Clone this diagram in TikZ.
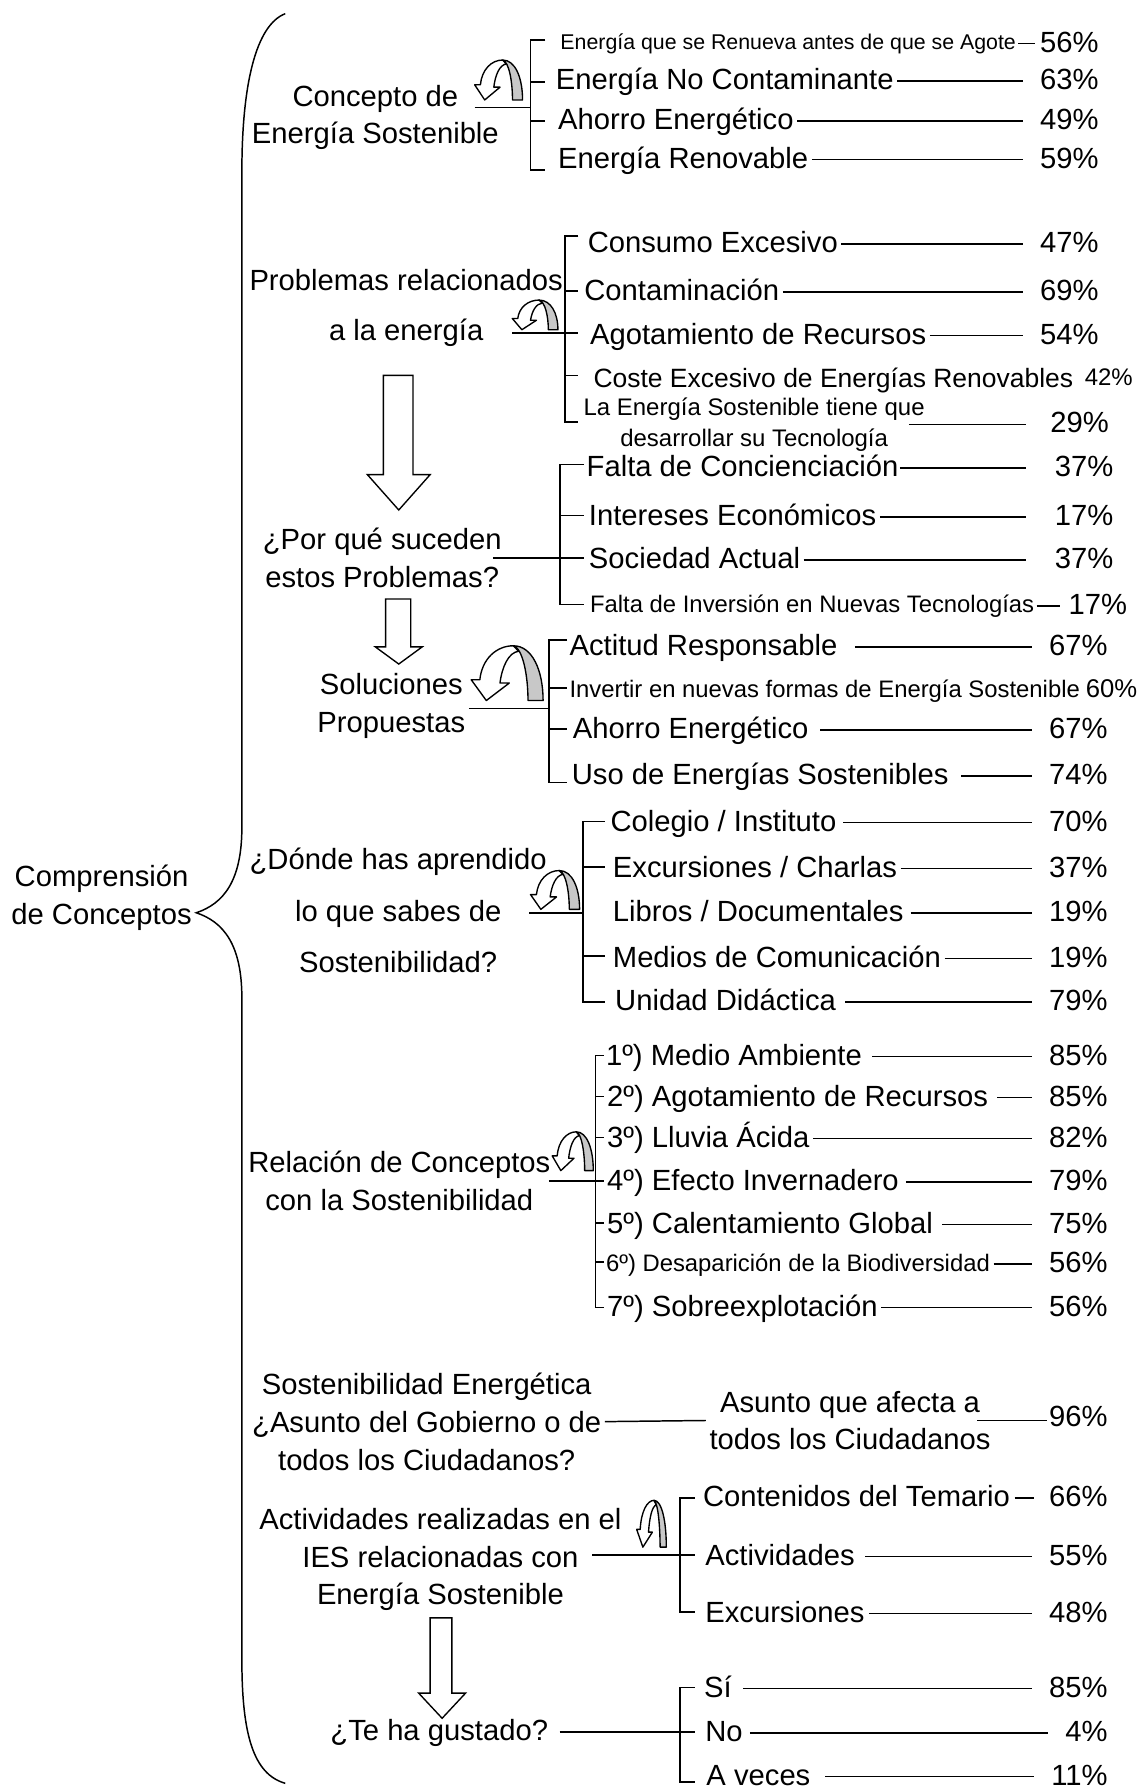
\documentclass[tikz,border=0pt]{standalone}
\usepackage{fontspec}
\setmainfont{Liberation Sans}
\definecolor{arrgray}{RGB}{200,200,200}
\newcommand\bigf{\fontsize{25.6}{33}\selectfont}
% curved arrow: #1 left x, #2 bottom y, #3 width, #4 height
\newcommand\bentarrow[4]{%
  \begin{scope}[shift={(#1,#2)},xscale=#3,yscale=-#4]
    \filldraw[fill=white,line width=1.2pt,line join=round]
      (0.12,0.38) .. controls (0.15,0.76) and (0.35,1) .. (0.586,1)
      -- (0.66,0.9) .. controls (0.52,0.88) and (0.43,0.62) .. (0.40,0.32)
      -- (0.53,0.32) -- (0.21,0) -- (0,0.38) -- cycle;
    \filldraw[fill=arrgray,line width=1.2pt,line join=round]
      (0.586,1) .. controls (0.85,1) and (1,0.55) .. (1,0)
      -- (0.79,0) .. controls (0.79,0.45) and (0.72,0.95) .. (0.586,1) -- cycle;
  \end{scope}}
% down block arrow: shaft l, shaft r, top, head top, wing l, wing r, tip y
\newcommand\downblock[7]{%
  \filldraw[fill=white,line width=1.2pt,line join=miter]
    (#1,#3) -- (#2,#3) -- (#2,#4) -- (#6,#4) -- ({(#5+#6)/2},#7) -- (#5,#4) -- (#1,#4) -- cycle;}
% bracket: x, tick end x, top, bottom, middle ticks
\newcommand\brk[5]{%
  \draw[conn] (#2,#3) -- (#1,#3) -- (#1,#4) -- (#2,#4);
  \foreach \yy in {#5} {\draw[conn] (#1,\yy) -- (#2,\yy);}}
% item row: name, x, y, style, text, pct, pct right x, start gap, end gap
\newcommand\itm[9]{%
  \node[#4] (#1) at (#2,#3) {#5};
  \node[pc] (#1p) at (#7,#3) {#6};
  \draw[conn,shorten >=#9pt] ([xshift=#8pt]#1.east) -- (#1.east -| #1p.west);}
\begin{document}
\begin{tikzpicture}[x=1pt,y=-1pt,
  conn/.style={line width=1.3pt},
  tb/.style={anchor=west,inner sep=0pt,font=\bigf,text height=18.4pt,text depth=3pt},
  ts/.style={anchor=west,inner sep=0pt,font=\fontsize{20.9}{27}\selectfont,text height=15pt,text depth=2.5pt},
  txs/.style={anchor=west,inner sep=0pt,font=\fontsize{18.7}{24}\selectfont,text height=13.5pt,text depth=2.3pt},
  tm/.style={anchor=west,inner sep=0pt,font=\fontsize{23.2}{30}\selectfont,text height=16.7pt,text depth=2.8pt},
  pc/.style={anchor=east,inner sep=0pt,font=\bigf,text height=18.4pt,text depth=3pt},
  grp/.style={align=center,inner sep=0pt,font=\bigf}]
\fill[white] (0,0) rectangle (1001,1568);
\clip (0,0) rectangle (1001,1568);

% big brace
\draw[conn] (250,12) .. controls (224,22) and (212,75) .. (212,150)
  -- (212,725) .. controls (212,772) and (196,792) .. (172,800)
  .. controls (196,808) and (212,828) .. (212,875)
  -- (212,1455) .. controls (212,1520) and (222,1555) .. (250,1563);
\node[grp] (q0) at (89,787) {Comprensión\\de Conceptos};

% ===== Group 1
\node[grp,font=\fontsize{25.6}{32}\selectfont] (q1) at (329,103) {Concepto de\\Energía Sostenible};
\coordinate (k1) at (416,94); \coordinate (k1b) at (465,94);
\draw[conn] (k1) -- (k1b);
\brk{465}{478}{35}{149}{72,106}
\bentarrow{416}{87.6}{42}{35}
\itm{a1}{491}{38}{txs}{Energía que se Renueva antes de que se Agote}{56\%}{963}{2}{4}
\itm{a2}{487}{71}{tb}{Energía No Contaminante}{63\%}{963}{3}{15}
\itm{a3}{489}{106}{tb}{Ahorro Energético}{49\%}{963}{3}{15}
\itm{a4}{489}{140}{tb}{Energía Renovable}{59\%}{963}{3}{15}

% ===== Group 2
\node[grp,font=\fontsize{25.6}{44}\selectfont] (q2) at (356,270) {Problemas relacionados\\a la energía};
\coordinate (k2) at (449,292); \coordinate (k2b) at (495,292);
\draw[conn] (k2) -- (k2b);
\brk{495}{507}{207}{370}{255,292,329}
\bentarrow{449}{289}{40}{26}
\itm{b1}{515}{214}{tb}{Consumo Excesivo}{47\%}{963}{3}{15}
\itm{b2}{512}{256}{tb}{Contaminación}{69\%}{963}{3}{15}
\itm{b3}{517}{294}{tb}{Agotamiento de Recursos}{54\%}{963}{3}{15}
\node[tm] (b4) at (520,333) {Coste Excesivo de Energías Renovables};
\node[pc,font=\fontsize{21}{27}\selectfont,text height=15pt,text depth=2.5pt] (b4p) at (993,332) {42\%};
\node[align=center,inner sep=0pt,font=\fontsize{21}{27}\selectfont] (b5) at (661,372) {La Energía Sostenible tiene que\\desarrollar su Tecnología};
\node[pc] (b5p) at (972,371) {29\%};
\draw[conn,shorten >=21pt] ([xshift=-14pt]b5.east) -- (b5.east -| b5p.west);

% ===== Group 3
\downblock{336}{362}{329}{416}{322}{377}{447}
\node[grp,font=\fontsize{25.6}{34}\selectfont] (q3) at (335,489) {¿Por qué suceden\\estos Problemas?};
\coordinate (k3) at (432,489); \coordinate (k3b) at (491,489);
\draw[conn] (k3) -- (k3b);
\brk{491}{512}{407}{530}{452,489}
\itm{c1}{514}{410}{tb}{Falta de Concienciación}{37\%}{976}{1}{25}
\itm{c2}{516}{453}{tb}{Intereses Económicos}{17\%}{976}{3}{25}
\itm{c3}{516}{491}{tb}{Sociedad Actual}{37\%}{976}{3}{25}
\itm{c4}{517}{531}{ts}{Falta de Inversión en Nuevas Tecnologías}{17\%}{988}{2}{7}

% ===== Group 4
\downblock{338}{360}{525}{567}{329}{370}{582}
\node[grp,font=\fontsize{25.6}{33}\selectfont] (q4) at (343,619) {Soluciones\\Propuestas};
\coordinate (k4) at (411,621); \coordinate (k4b) at (481,621);
\draw[conn] (k4) -- (k4b);
\brk{481}{497}{561}{686}{603,639}
\bentarrow{413}{614}{63}{48}
\itm{d1}{499}{567}{tb}{Actitud Responsable}{67\%}{971}{15}{15}
\node[ts] (d2) at (499,605) {Invertir en nuevas formas de Energía Sostenible};
\node[pc,font=\fontsize{22.5}{28}\selectfont,text height=16.2pt,text depth=2.7pt] (d2p) at (997,605) {60\%};
\itm{d3}{502}{640}{tb}{Ahorro Energético}{67\%}{971}{10}{15}
\itm{d4}{501}{680}{tb}{Uso de Energías Sostenibles}{74\%}{971}{11}{15}

% ===== Group 5
\node[grp,font=\fontsize{25.6}{45}\selectfont] (q5) at (349,798) {¿Dónde has aprendido\\lo que sabes de\\Sostenibilidad?};
\coordinate (k5) at (464,800); \coordinate (k5b) at (511,800);
\draw[conn] (k5) -- (k5b);
\brk{511}{530}{720}{878}{760,838}
\bentarrow{465}{797}{43}{34}
\itm{e1}{535}{721}{tb}{Colegio / Instituto}{70\%}{971}{6}{15}
\itm{e2}{537}{761}{tb}{Excursiones / Charlas}{37\%}{971}{3}{15}
\itm{e3}{537}{800}{tb}{Libros / Documentales}{19\%}{971}{6}{15}
\itm{e4}{537}{840}{tb}{Medios de Comunicación}{19\%}{971}{3}{15}
\itm{e5}{539}{878}{tb}{Unidad Didáctica}{79\%}{971}{8}{15}

% ===== Group 6
\node[grp,font=\fontsize{25.6}{33}\selectfont] (q6) at (350,1035) {Relación de Conceptos\\con la Sostenibilidad};
\coordinate (k6) at (481,1035); \coordinate (k6b) at (522,1035);
\draw[conn] (k6) -- (k6b);
\brk{522}{529}{925}{1146}{961,997,1035,1072,1106}
\bentarrow{484}{1026}{36}{34}
\itm{f1}{531}{926}{tb}{1º) Medio Ambiente}{85\%}{971}{9}{15}
\itm{f2}{532}{962}{tb}{2º) Agotamiento de Recursos}{85\%}{971}{8}{15}
\itm{f3}{532}{998}{tb}{3º) Lluvia Ácida}{82\%}{971}{3}{15}
\itm{f4}{532}{1036}{tb}{4º) Efecto Invernadero}{79\%}{971}{6}{15}
\itm{f5}{532}{1073}{tb}{5º) Calentamiento Global}{75\%}{971}{8}{15}
\itm{f6}{531}{1108}{ts}{6º) Desaparición de la Biodiversidad}{56\%}{971}{3}{15}
\itm{f7}{532}{1146}{tb}{7º) Sobreexplotación}{56\%}{971}{3}{15}

% ===== Group 7
\node[grp,font=\fontsize{25.6}{33.5}\selectfont] (q7) at (374,1246) {Sostenibilidad Energética\\¿Asunto del Gobierno o de\\todos los Ciudadanos?};
\node[grp,font=\fontsize{25.6}{33}\selectfont] (g1) at (745,1245) {Asunto que afecta a\\todos los Ciudadanos};
\draw[conn] ([xshift=3pt]q7.east) -- ([xshift=-3pt]g1.west);
\node[pc] (g1p) at (971,1243) {96\%};
\draw[conn,shorten >=2pt] ([xshift=-12pt]g1.east) -- (g1.east -| g1p.west);

% ===== Group 8
\node[grp,font=\fontsize{25.6}{33}\selectfont] (q8) at (386,1367) {Actividades realizadas en el\\IES relacionadas con\\Energía Sostenible};
\coordinate (k8) at (519,1363); \coordinate (k8b) at (596,1363);
\draw[conn] (k8) -- (k8b);
\brk{596}{609}{1313}{1413}{1363}
\bentarrow{558}{1356}{26}{41}
\itm{h1}{616}{1313}{tb}{Contenidos del Temario}{66\%}{971}{4}{13}
\itm{h2}{618}{1364}{tb}{Actividades}{55\%}{971}{9}{15}
\itm{h3}{618}{1414}{tb}{Excursiones}{48\%}{971}{4}{15}

% ===== Group 9
\downblock{377}{396}{1418}{1484}{367}{408}{1506}
\node[grp] (q9) at (385,1519) {¿Te ha gustado?};
\coordinate (k9b) at (596,1518);
\draw[conn] ([xshift=10pt]q9.east |- k9b) -- (k9b);
\brk{596}{609}{1479}{1562}{1518}
\itm{i1}{617}{1480}{tb}{Sí}{85\%}{971}{10}{15}
\itm{i2}{618}{1519}{tb}{No}{4\%}{971}{6}{15}
\itm{i3}{619}{1557}{tb}{A veces}{11\%}{971}{13}{15}
\end{tikzpicture}
\end{document}
